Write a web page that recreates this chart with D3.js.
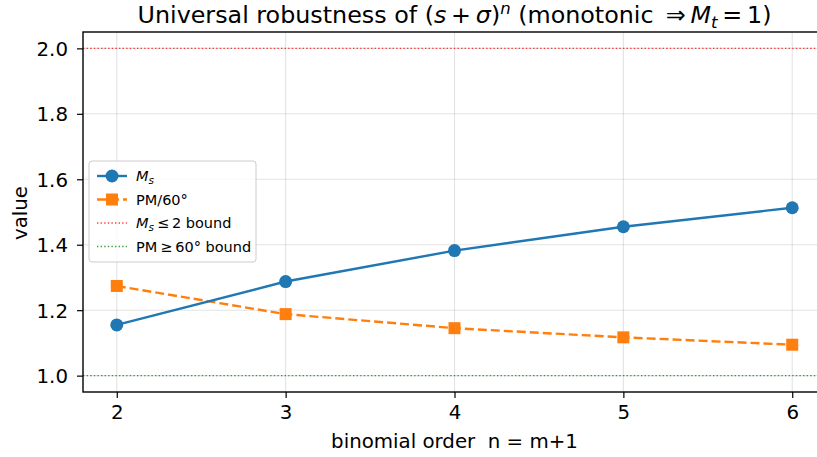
<!DOCTYPE html>
<html lang="en">
<head>
<meta charset="utf-8" />
<title>Universal robustness</title>
<script src="https://d3js.org/d3.v7.min.js"></script>
<style>
  body { margin: 0; background: #fff; }
  svg { font-family: "DejaVu Sans", sans-serif; }
</style>
</head>
<body>
<svg width="817" height="457"></svg>
<script>
    // data
    const orders = [2, 3, 4, 5, 6];
    const msValues = [1.155, 1.2875, 1.382, 1.455, 1.513];
    const pmValues = [1.274, 1.188, 1.145, 1.117, 1.0945];
    const msBound = 2.0;
    const pmBound = 1.0;
    const xTicks = [2, 3, 4, 5, 6];
    const yTicks = [1.0, 1.2, 1.4, 1.6, 1.8, 2.0];

    let width = 817, height = 457;
    let margin = { left: 83, right: 826, top: 32, bottom: 392 };

    let svg = d3.select("svg");

    let x = d3.scaleLinear().domain([1.8, 6.2]).range([margin.left, margin.right]);
    let y = d3.scaleLinear().domain([0.95, 2.05]).range([margin.bottom, margin.top]);

    // grid
    let grid = svg.append("g").attr("stroke", "#b0b0b0").attr("stroke-opacity", 0.35).attr("stroke-width", 1.1);
    grid.selectAll("line.gx").data(xTicks).enter().append("line")
        .attr("x1", d => x(d)).attr("x2", d => x(d))
        .attr("y1", margin.top).attr("y2", margin.bottom);
    grid.selectAll("line.gy").data(yTicks).enter().append("line")
        .attr("y1", d => y(d)).attr("y2", d => y(d))
        .attr("x1", margin.left).attr("x2", margin.right);

    // bound lines
    svg.append("line")
        .attr("x1", margin.left).attr("x2", margin.right)
        .attr("y1", y(msBound)).attr("y2", y(msBound))
        .attr("stroke", "red").attr("stroke-opacity", 0.75).attr("stroke-width", 1.4)
        .attr("stroke-dasharray", "1.4,2.2");
    svg.append("line")
        .attr("x1", margin.left).attr("x2", margin.right)
        .attr("y1", y(pmBound)).attr("y2", y(pmBound))
        .attr("stroke", "green").attr("stroke-opacity", 0.75).attr("stroke-width", 1.4)
        .attr("stroke-dasharray", "1.4,2.2");

    let line = d3.line().x(d => x(d[0])).y(d => y(d[1]));
    let msData = orders.map((o, i) => [o, msValues[i]]);
    let pmData = orders.map((o, i) => [o, pmValues[i]]);

    // PM/60 series
    svg.append("path").datum(pmData)
        .attr("d", line).attr("fill", "none")
        .attr("stroke", "#ff7f0e").attr("stroke-width", 2.4)
        .attr("stroke-dasharray", "9,4");
    svg.selectAll("rect.pm").data(pmData).enter().append("rect")
        .attr("x", d => x(d[0]) - 6).attr("y", d => y(d[1]) - 6)
        .attr("width", 12).attr("height", 12)
        .attr("fill", "#ff7f0e");

    // Ms series
    svg.append("path").datum(msData)
        .attr("d", line).attr("fill", "none")
        .attr("stroke", "#1f77b4").attr("stroke-width", 2.4);
    svg.selectAll("circle.ms").data(msData).enter().append("circle")
        .attr("cx", d => x(d[0])).attr("cy", d => y(d[1]))
        .attr("r", 6.5).attr("fill", "#1f77b4");

    // axes
    let xAxis = svg.append("g").attr("transform", "translate(0," + margin.bottom + ")")
        .call(d3.axisBottom(x).tickValues(xTicks).tickFormat(d3.format("d")).tickSize(6).tickPadding(6));
    let yAxis = svg.append("g").attr("transform", "translate(" + margin.left + ",0)")
        .call(d3.axisLeft(y).tickValues(yTicks).tickFormat(d3.format(".1f")).tickSize(6).tickPadding(9));
    [xAxis, yAxis].forEach(a => {
        a.select(".domain").remove();
        a.selectAll("text").attr("font-family", "DejaVu Sans").attr("font-size", 19.8).attr("fill", "#000");
        a.selectAll("line").attr("stroke", "#000").attr("stroke-width", 1.2);
    });
    xAxis.selectAll("text").attr("dy", null).attr("y", 27);
    yAxis.selectAll("text").attr("dy", "0.36em");

    // spines
    svg.append("rect")
        .attr("x", margin.left).attr("y", margin.top)
        .attr("width", margin.right - margin.left).attr("height", margin.bottom - margin.top)
        .attr("fill", "none").attr("stroke", "#000").attr("stroke-width", 1.4);

    // labels
    svg.append("text").attr("x", (margin.left + margin.right) / 2).attr("y", 448)
        .attr("text-anchor", "middle").attr("font-size", 19.8).text("binomial order\u00a0\u00a0n = m+1");
    svg.append("text").attr("transform", "translate(27,213) rotate(-90)")
        .attr("text-anchor", "middle").attr("font-size", 19.8).text("value");

    // title with math text
    let title = svg.append("text").attr("x", (margin.left + margin.right) / 2).attr("y", 23)
        .attr("text-anchor", "middle").attr("font-size", 23.8);
    title.append("tspan").text("Universal robustness of (");
    title.append("tspan").attr("font-style", "italic").text("s");
    title.append("tspan").text("\u2009+\u2009");
    title.append("tspan").attr("font-style", "italic").text("σ");
    title.append("tspan").text(")");
    title.append("tspan").attr("font-style", "italic").attr("font-size", 16.5).attr("dy", -9).text("n");
    title.append("tspan").attr("dy", 9).text(" (monotonic \u2009⇒\u2009");
    title.append("tspan").attr("font-style", "italic").text("M");
    title.append("tspan").attr("font-style", "italic").attr("font-size", 16.5).attr("dy", 5).text("t");
    title.append("tspan").attr("dy", -5).text("\u2009=\u20091)");

    // legend
    let legend = svg.append("g").attr("transform", "translate(89,161)");
    legend.append("rect").attr("width", 167).attr("height", 101).attr("rx", 3)
        .attr("fill", "#fff").attr("fill-opacity", 0.8)
        .attr("stroke", "#ccc").attr("stroke-width", 1);

    let entries = [
        { key: "ms", color: "#1f77b4", dash: null, marker: "circle" },
        { key: "pm", color: "#ff7f0e", dash: "9,4", marker: "square" },
        { key: "msb", color: "red", dash: "1.4,2.2", marker: null },
        { key: "pmb", color: "green", dash: "1.4,2.2", marker: null }
    ];
    entries.forEach((e, i) => {
        let g = legend.append("g").attr("transform", "translate(0," + (15 + i * 23.5) + ")");
        g.append("line").attr("x1", 8).attr("x2", 38)
            .attr("stroke", e.color)
            .attr("stroke-width", e.marker ? 2.4 : 1.4)
            .attr("stroke-opacity", e.marker ? 1 : 0.75)
            .attr("stroke-dasharray", e.dash);
        if (e.marker === "circle") g.append("circle").attr("cx", 23).attr("r", 6.5).attr("fill", e.color);
        if (e.marker === "square") g.append("rect").attr("x", 17).attr("y", -6).attr("width", 12).attr("height", 12).attr("fill", e.color);
        let t = g.append("text").attr("x", 47).attr("y", 5).attr("font-size", 14.5);
        if (e.key === "ms") {
            t.append("tspan").attr("font-style", "italic").text("M");
            t.append("tspan").attr("font-style", "italic").attr("font-size", 10.5).attr("dy", 3).text("s");
        } else if (e.key === "pm") {
            t.text("PM/60°");
        } else if (e.key === "msb") {
            t.append("tspan").attr("font-style", "italic").text("M");
            t.append("tspan").attr("font-style", "italic").attr("font-size", 10.5).attr("dy", 3).text("s");
            t.append("tspan").attr("dy", -3).text("\u2009≤\u20092 bound");
        } else {
            t.text("PM\u2009≥\u200960° bound");
        }
    });
</script>
</body>
</html>
